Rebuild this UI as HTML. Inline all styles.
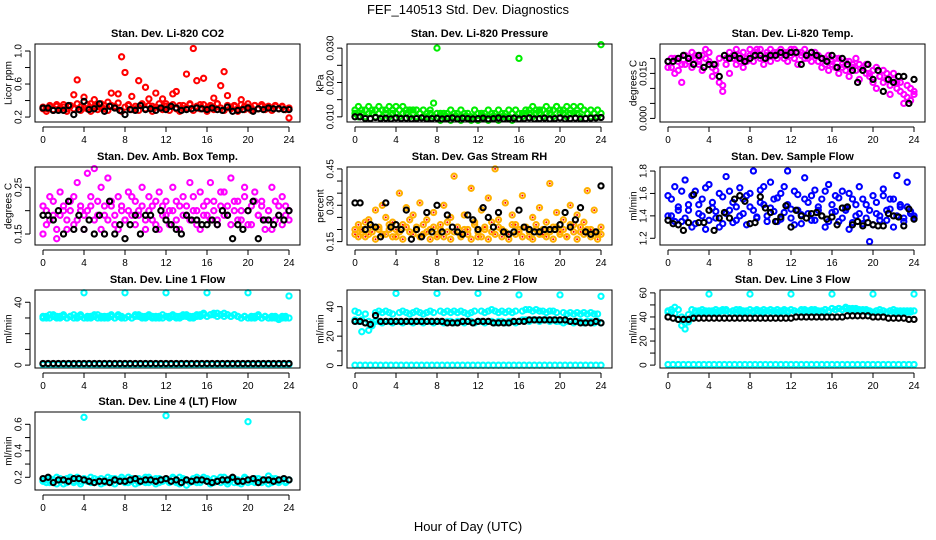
<!DOCTYPE html>
<html><head><meta charset="utf-8"><style>
html,body{margin:0;padding:0;background:#fff;}
svg{display:block;font-family:"Liberation Sans",sans-serif;}
</style></head><body>
<svg id="chart" width="936" height="540" viewBox="0 0 936 540">
<text x="468" y="14" font-size="13" text-anchor="middle">FEF_140513  Std. Dev. Diagnostics</text>
<text x="468" y="531" font-size="13" text-anchor="middle">Hour of Day (UTC)</text>
<g id="plots"></g>
</svg>
<script>
const hourTicks = [0,4,8,12,16,20,24];
// CO2
const co2A = [0.32,0.30,0.34,0.29,0.33,0.31,0.35,0.30,0.33,0.47,0.65,0.32,0.44,0.30,0.36,0.41,0.33,0.31,0.34,0.38,0.49,0.33,0.48,0.93,0.74,0.34,0.45,0.30,0.64,0.35,0.56,0.42,0.33,0.49,0.31,0.42,0.36,0.33,0.48,0.51,0.34,0.30,0.72,0.35,1.03,0.64,0.35,0.67,0.31,0.34,0.43,0.36,0.58,0.75,0.46,0.32,0.34,0.30,0.41,0.33,0.36,0.31,0.34,0.30,0.35,0.32,0.33,0.31,0.34,0.30,0.33,0.29,0.19];
const co2B = [0.30,0.27,0.33,0.28,0.35,0.29,0.32,0.27,0.34,0.30,0.36,0.28,0.31,0.35,0.27,0.33,0.29,0.36,0.30,0.28,0.34,0.31,0.37,0.27,0.32,0.35,0.29,0.33,0.28,0.36,0.30,0.34,0.27,0.32,0.36,0.29,0.33,0.28,0.35,0.30,0.27,0.34,0.31,0.36,0.28,0.33,0.30,0.35,0.27,0.32,0.29,0.36,0.31,0.28,0.34,0.30,0.33,0.27,0.35,0.29,0.32,0.28,0.34,0.30,0.33,0.29,0.31,0.28,0.33,0.30,0.32,0.29,0.31];
const co2K = [0.31,0.31,0.28,0.28,0.28,0.34,0.23,0.29,0.39,0.29,0.30,0.36,0.27,0.33,0.31,0.28,0.23,0.29,0.28,0.34,0.29,0.30,0.28,0.31,0.29,0.33,0.31,0.28,0.29,0.30,0.31,0.30,0.29,0.31,0.29,0.28,0.32,0.27,0.28,0.29,0.31,0.27,0.30,0.29,0.31,0.30,0.30,0.29,0.29];
// Pressure
const presA = [0.012,0.013,0.011,0.012,0.013,0.011,0.012,0.013,0.012,0.011,0.013,0.012,0.011,0.012,0.013,0.011,0.012,0.011,0.012,0.011,0.010,0.011,0.012,0.014,0.030,0.011,0.010,0.011,0.012,0.010,0.011,0.012,0.010,0.011,0.010,0.012,0.011,0.010,0.011,0.012,0.010,0.011,0.012,0.011,0.010,0.012,0.011,0.012,0.027,0.011,0.012,0.011,0.013,0.012,0.011,0.012,0.013,0.011,0.012,0.013,0.012,0.011,0.013,0.012,0.011,0.012,0.013,0.012,0.011,0.012,0.011,0.012,0.031];
const presB = [0.011,0.010,0.012,0.010,0.011,0.012,0.010,0.011,0.010,0.012,0.010,0.011,0.013,0.010,0.011,0.012,0.010,0.012,0.010,0.011,0.012,0.010,0.011,0.010,0.011,0.009,0.011,0.010,0.009,0.011,0.010,0.009,0.011,0.010,0.009,0.010,0.009,0.011,0.010,0.009,0.011,0.010,0.009,0.010,0.011,0.010,0.009,0.010,0.011,0.010,0.011,0.012,0.010,0.011,0.012,0.010,0.011,0.012,0.010,0.013,0.011,0.012,0.010,0.011,0.013,0.011,0.010,0.012,0.011,0.010,0.011,0.010,0.011];
const presK = [0.010,0.010,0.0095,0.0095,0.0098,0.0095,0.0096,0.0094,0.0097,0.0095,0.0096,0.0094,0.0095,0.0097,0.0094,0.0095,0.0096,0.0094,0.0095,0.0097,0.0094,0.0096,0.0095,0.0094,0.0095,0.0096,0.0094,0.0095,0.0097,0.0094,0.0095,0.0096,0.0094,0.0095,0.0097,0.0094,0.0095,0.0096,0.0094,0.0095,0.0097,0.0094,0.0095,0.0096,0.0094,0.0095,0.0096,0.0097,0.0098];
// Li-820 temp
const tempA = [0.019,0.017,0.020,0.016,0.018,0.021,0.019,0.022,0.020,0.018,0.021,0.023,0.019,0.014,0.016,0.012,0.009,0.020,0.022,0.021,0.023,0.019,0.022,0.020,0.023,0.021,0.022,0.023,0.020,0.022,0.023,0.021,0.022,0.023,0.020,0.022,0.021,0.023,0.022,0.021,0.023,0.020,0.022,0.021,0.019,0.020,0.018,0.021,0.019,0.017,0.020,0.018,0.016,0.019,0.017,0.020,0.018,0.016,0.018,0.015,0.012,0.017,0.014,0.016,0.013,0.011,0.015,0.012,0.009,0.008,0.011,0.006,0.009];
const tempB = [0.017,0.020,0.015,0.019,0.012,0.018,0.020,0.017,0.021,0.019,0.016,0.020,0.022,0.017,0.018,0.020,0.011,0.018,0.015,0.020,0.018,0.021,0.017,0.019,0.021,0.019,0.023,0.020,0.018,0.021,0.019,0.022,0.020,0.021,0.022,0.019,0.023,0.020,0.018,0.022,0.020,0.021,0.019,0.022,0.021,0.017,0.020,0.016,0.018,0.020,0.015,0.017,0.019,0.014,0.018,0.016,0.013,0.017,0.015,0.014,0.016,0.010,0.014,0.012,0.015,0.008,0.013,0.010,0.012,0.005,0.007,0.010,0.008];
const tempK = [0.019,0.019,0.020,0.021,0.020,0.018,0.021,0.017,0.018,0.018,0.014,0.021,0.020,0.021,0.020,0.019,0.020,0.021,0.021,0.020,0.021,0.021,0.022,0.021,0.022,0.022,0.018,0.021,0.022,0.021,0.020,0.019,0.021,0.017,0.020,0.018,0.016,0.012,0.016,0.018,0.013,0.016,0.009,0.013,0.012,0.014,0.014,0.005,0.013];
// Amb box temp
const ambA = [0.21,0.17,0.23,0.19,0.16,0.24,0.20,0.18,0.22,0.17,0.26,0.20,0.19,0.28,0.21,0.18,0.22,0.25,0.19,0.27,0.21,0.17,0.23,0.20,0.18,0.24,0.19,0.22,0.20,0.25,0.18,0.23,0.21,0.17,0.24,0.19,0.22,0.20,0.25,0.18,0.21,0.23,0.19,0.26,0.20,0.17,0.24,0.21,0.19,0.26,0.22,0.18,0.21,0.24,0.19,0.27,0.22,0.18,0.20,0.23,0.17,0.21,0.24,0.19,0.22,0.16,0.20,0.25,0.18,0.21,0.23,0.19,0.20];
const ambB = [0.15,0.20,0.18,0.22,0.14,0.19,0.21,0.16,0.20,0.23,0.18,0.21,0.16,0.20,0.23,0.29,0.19,0.16,0.21,0.18,0.22,0.19,0.16,0.21,0.18,0.20,0.23,0.17,0.19,0.21,0.16,0.20,0.18,0.22,0.16,0.21,0.19,0.17,0.20,0.22,0.16,0.19,0.21,0.18,0.23,0.20,0.16,0.19,0.22,0.18,0.20,0.17,0.24,0.19,0.21,0.17,0.20,0.22,0.18,0.25,0.20,0.17,0.22,0.19,0.21,0.18,0.20,0.16,0.22,0.19,0.17,0.21,0.18];
const ambK = [0.19,0.19,0.18,0.20,0.15,0.22,0.16,0.19,0.16,0.18,0.15,0.19,0.15,0.22,0.15,0.17,0.14,0.17,0.19,0.15,0.19,0.19,0.16,0.20,0.18,0.17,0.16,0.15,0.19,0.18,0.18,0.17,0.17,0.18,0.17,0.20,0.19,0.14,0.17,0.16,0.20,0.22,0.14,0.18,0.18,0.17,0.19,0.18,0.20];
// Gas stream RH
const rhA = [0.18,0.22,0.20,0.17,0.24,0.19,0.28,0.21,0.18,0.25,0.20,0.23,0.17,0.35,0.22,0.29,0.19,0.26,0.21,0.31,0.18,0.24,0.20,0.27,0.17,0.22,0.30,0.19,0.25,0.42,0.21,0.18,0.26,0.20,0.37,0.23,0.17,0.28,0.21,0.33,0.19,0.45,0.24,0.20,0.31,0.18,0.26,0.22,0.19,0.34,0.21,0.17,0.25,0.20,0.29,0.18,0.23,0.39,0.21,0.27,0.19,0.24,0.17,0.30,0.22,0.26,0.19,0.23,0.36,0.20,0.28,0.18,0.21];
const rhB = [0.20,0.17,0.19,0.23,0.18,0.21,0.16,0.20,0.30,0.18,0.22,0.17,0.20,0.19,0.16,0.21,0.24,0.18,0.20,0.17,0.22,0.19,0.16,0.21,0.18,0.20,0.17,0.23,0.16,0.19,0.21,0.17,0.20,0.18,0.16,0.22,0.19,0.17,0.20,0.16,0.23,0.18,0.21,0.17,0.19,0.16,0.22,0.18,0.20,0.17,0.21,0.19,0.16,0.22,0.18,0.20,0.17,0.19,0.16,0.21,0.18,0.20,0.17,0.22,0.19,0.16,0.21,0.18,0.20,0.17,0.19,0.16,0.18];
const rhK = [0.31,0.31,0.20,0.22,0.21,0.17,0.31,0.21,0.22,0.20,0.28,0.16,0.20,0.17,0.27,0.19,0.30,0.19,0.26,0.21,0.19,0.18,0.26,0.24,0.20,0.29,0.25,0.21,0.27,0.19,0.18,0.19,0.28,0.21,0.20,0.19,0.19,0.20,0.20,0.20,0.22,0.27,0.21,0.24,0.29,0.19,0.18,0.19,0.38];
// Sample flow
const flowA = [1.58,1.40,1.66,1.45,1.35,1.72,1.50,1.30,1.62,1.42,1.55,1.28,1.68,1.47,1.38,1.60,1.33,1.75,1.45,1.52,1.36,1.65,1.42,1.58,1.48,1.80,1.39,1.63,1.50,1.35,1.70,1.44,1.56,1.37,1.66,1.80,1.46,1.32,1.59,1.41,1.74,1.52,1.36,1.63,1.45,1.55,1.30,1.68,1.43,1.58,1.35,1.62,1.47,1.28,1.55,1.40,1.66,1.33,1.50,1.17,1.58,1.42,1.36,1.64,1.45,1.55,1.30,1.76,1.48,1.38,1.70,1.44,1.40];
const flowB = [1.40,1.55,1.35,1.48,1.62,1.38,1.45,1.58,1.33,1.50,1.40,1.65,1.36,1.52,1.44,1.30,1.57,1.42,1.62,1.34,1.48,1.40,1.55,1.32,1.60,1.45,1.38,1.52,1.66,1.40,1.47,1.55,1.35,1.60,1.43,1.50,1.38,1.62,1.45,1.33,1.55,1.42,1.58,1.36,1.48,1.40,1.62,1.35,1.50,1.44,1.56,1.38,1.45,1.60,1.34,1.50,1.42,1.55,1.38,1.45,1.32,1.52,1.40,1.58,1.36,1.46,1.55,1.40,1.50,1.35,1.48,1.42,1.38];
const flowK = [1.36,1.33,1.32,1.27,1.34,1.59,1.34,1.34,1.45,1.27,1.38,1.43,1.38,1.55,1.58,1.53,1.33,1.34,1.57,1.47,1.43,1.35,1.39,1.49,1.30,1.45,1.40,1.38,1.42,1.43,1.40,1.37,1.39,1.32,1.47,1.48,1.32,1.35,1.31,1.34,1.32,1.31,1.31,1.42,1.40,1.39,1.31,1.46,1.37];
// Line 1
const l1A = [31,30,32,31,30,31,32,30,31,30,31,32,46,30,31,32,30,31,30,31,32,30,31,30,46,31,30,32,31,30,31,32,31,30,31,30,46,31,32,31,30,31,32,31,30,31,32,33,46,32,33,31,32,33,32,31,32,31,30,31,46,30,31,32,30,31,30,31,30,29,31,30,44];
const l1B = [30,31,30,32,31,30,31,30,31,32,30,31,30,31,30,31,32,30,31,30,31,30,32,31,30,31,30,31,32,31,30,31,30,31,30,32,31,30,31,30,31,32,31,30,31,32,31,32,31,32,32,33,32,31,32,31,32,31,30,31,30,31,30,31,30,31,30,30,31,30,30,31,30];
const l1Z = [0.3,0.3,0.3,0.3,0.3,0.3,0.3,0.3,0.3,0.3,0.3,0.3,0.3,0.3,0.3,0.3,0.3,0.3,0.3,0.3,0.3,0.3,0.3,0.3,0.3,0.3,0.3,0.3,0.3,0.3,0.3,0.3,0.3,0.3,0.3,0.3,0.3,0.3,0.3,0.3,0.3,0.3,0.3,0.3,0.3,0.3,0.3,0.3,0.3];
const l1K = [1,1,1,1,1,1,1,1,1,1,1,1,1,1,1,1,1,1,1,1,1,1,1,1,1,1,1,1,1,1,1,1,1,1,1,1,1,1,1,1,1,1,1,1,1,1,1,1,1];
// Line 2
const l2A = [37,36,23,35,24,27,36,37,36,37,36,35,49,36,37,36,35,36,37,36,35,36,37,36,49,37,36,37,36,37,36,37,36,35,36,37,49,37,36,37,38,37,36,37,36,37,36,37,48,37,38,38,37,38,37,37,36,37,37,36,48,36,35,36,35,36,35,36,35,36,35,35,47];
const l2B = [31,30,31,29,30,29,30,30,29,30,30,29,30,30,29,30,30,29,30,30,29,30,30,29,30,30,29,30,30,29,30,30,29,30,30,29,30,30,29,30,30,29,30,30,29,30,30,29,30,31,31,30,31,31,30,31,31,30,31,30,30,29,30,30,29,30,30,29,30,30,29,30,29];
const l2Z = [0.3,0.3,0.3,0.3,0.3,0.3,0.3,0.3,0.3,0.3,0.3,0.3,0.3,0.3,0.3,0.3,0.3,0.3,0.3,0.3,0.3,0.3,0.3,0.3,0.3,0.3,0.3,0.3,0.3,0.3,0.3,0.3,0.3,0.3,0.3,0.3,0.3,0.3,0.3,0.3,0.3,0.3,0.3,0.3,0.3,0.3,0.3,0.3,0.3];
const l2K = [30,30,29,28,34,30,30,30,30,30,30,30,30,30,30,30,30,30,29,29,29,30,30,29,30,30,30,29,29,29,29,30,30,30,31,31,31,31,31,31,31,31,30,30,29,29,29,30,29];
// Line 3
const l3A = [45,44,43,38,33,30,36,40,44,45,44,45,59,45,44,45,46,45,44,45,46,45,44,45,59,45,46,45,44,45,46,45,44,45,46,45,59,45,44,45,46,45,46,45,44,45,46,45,59,46,47,46,47,46,47,46,45,46,45,44,59,45,44,45,44,45,44,45,44,45,44,45,59];
const l3B = [44,46,48,46,40,35,42,46,45,44,46,44,45,44,46,44,45,46,44,45,44,46,45,44,46,44,45,44,46,45,44,45,46,44,45,44,46,45,44,46,45,44,45,46,45,44,46,45,47,46,47,46,48,47,46,47,46,45,46,45,44,45,46,45,44,45,46,44,45,44,45,44,45];
const l3Z = [0.5,0.5,0.5,0.5,0.5,0.5,0.5,0.5,0.5,0.5,0.5,0.5,0.5,0.5,0.5,0.5,0.5,0.5,0.5,0.5,0.5,0.5,0.5,0.5,0.5,0.5,0.5,0.5,0.5,0.5,0.5,0.5,0.5,0.5,0.5,0.5,0.5,0.5,0.5,0.5,0.5,0.5,0.5,0.5,0.5,0.5,0.5,0.5,0.5];
const l3K = [40,39,38,38,38,39,39,39,39,39,39,39,39,39,39,39,39,39,39,39,39,39,39,39,39,40,40,40,40,40,40,40,40,40,40,41,41,41,41,41,40,40,40,39,39,39,39,38,38];
// Line 4
const l4A = [0.17,0.19,0.16,0.18,0.20,0.17,0.15,0.19,0.18,0.16,0.20,0.17,0.653,0.18,0.16,0.19,0.17,0.15,0.18,0.20,0.16,0.19,0.17,0.18,0.16,0.20,0.17,0.15,0.19,0.18,0.16,0.20,0.17,0.19,0.16,0.18,0.665,0.17,0.19,0.16,0.20,0.18,0.14,0.17,0.19,0.16,0.18,0.20,0.17,0.15,0.19,0.18,0.16,0.20,0.17,0.19,0.16,0.18,0.15,0.19,0.62,0.17,0.16,0.19,0.18,0.17,0.21,0.16,0.19,0.17,0.18,0.16,0.18];
const l4B = [0.18,0.16,0.19,0.17,0.15,0.19,0.18,0.16,0.20,0.17,0.18,0.15,0.19,0.17,0.20,0.16,0.18,0.19,0.16,0.17,0.19,0.15,0.18,0.20,0.17,0.16,0.19,0.18,0.16,0.17,0.20,0.16,0.18,0.15,0.19,0.17,0.18,0.16,0.20,0.17,0.15,0.19,0.18,0.16,0.17,0.20,0.16,0.18,0.19,0.17,0.16,0.18,0.20,0.17,0.15,0.18,0.19,0.16,0.17,0.20,0.16,0.18,0.19,0.17,0.16,0.18,0.15,0.19,0.17,0.16,0.18,0.17,0.18];
const l4K = [0.19,0.20,0.16,0.18,0.18,0.17,0.19,0.19,0.18,0.17,0.16,0.17,0.17,0.16,0.18,0.17,0.17,0.18,0.19,0.17,0.18,0.18,0.17,0.18,0.19,0.17,0.18,0.16,0.18,0.17,0.18,0.18,0.17,0.16,0.17,0.18,0.18,0.20,0.17,0.17,0.18,0.19,0.16,0.18,0.18,0.17,0.18,0.19,0.18];

const colX0 = [43,355,668];
const rowTop = [44,167,290,412];
const panels = [
 {name:'co2',title:'Stan. Dev. Li-820 CO2',ylab:'Licor ppm',col:0,row:0,ylim:[0.14,1.085],ticks:[0.2,0.4,0.6,0.8,1.0],labels:['0.2','','0.6','','1.0'],series:[[co2B,'#ff0000'],[co2A,'#ff0000'],[co2K,'#000000']]},
 {name:'pressure',title:'Stan. Dev. Li-820 Pressure',ylab:'kPa',col:1,row:0,ylim:[0.0085,0.0312],ticks:[0.010,0.015,0.020,0.025,0.030],labels:['0.010','','0.020','','0.030'],series:[[presB,'#00ee00'],[presA,'#00ee00'],[presK,'#000000']]},
 {name:'li820-temp',title:'Stan. Dev. Li-820 Temp.',ylab:'degrees C',col:2,row:0,ylim:[-0.0012,0.0248],ticks:[0,0.005,0.010,0.015,0.020],labels:['0.000','','','0.015',''],series:[[tempB,'#ff00ff'],[tempA,'#ff00ff'],[tempK,'#000000']]},
 {name:'amb-box-temp',title:'Stan. Dev. Amb. Box Temp.',ylab:'degrees C',col:0,row:1,ylim:[0.1265,0.2935],ticks:[0.15,0.20,0.25],labels:['0.15','','0.25'],series:[[ambB,'#ff00ff'],[ambA,'#ff00ff'],[ambK,'#000000']]},
 {name:'gas-rh',title:'Stan. Dev. Gas Stream RH',ylab:'percent',col:1,row:1,ylim:[0.136,0.458],ticks:[0.15,0.20,0.25,0.30,0.35,0.40,0.45],labels:['0.15','','','0.30','','','0.45'],series:[[rhB,'#ffb000'],[rhA,'#ffb000'],[rhK,'#000000']],dot:'#ff0000'},
 {name:'sample-flow',title:'Stan. Dev. Sample Flow',ylab:'ml/min',col:2,row:1,ylim:[1.14,1.836],ticks:[1.2,1.4,1.6,1.8],labels:['1.2','1.4','1.6','1.8'],series:[[flowB,'#0000ff'],[flowA,'#0000ff'],[flowK,'#000000']]},
 {name:'line1-flow',title:'Stan. Dev. Line 1 Flow',ylab:'ml/min',col:0,row:2,ylim:[-1.84,47.8],ticks:[0,10,20,30,40],labels:['0','','','','40'],series:[[l1Z,'#00ffff'],[l1B,'#00ffff'],[l1A,'#00ffff'],[l1K,'#000000']]},
 {name:'line2-flow',title:'Stan. Dev. Line 2 Flow',ylab:'ml/min',col:1,row:2,ylim:[-1.6,51.3],ticks:[0,10,20,30,40],labels:['0','','20','','40'],series:[[l2Z,'#00ffff'],[l2B,'#00ffff'],[l2A,'#00ffff'],[l2K,'#000000']]},
 {name:'line3-flow',title:'Stan. Dev. Line 3 Flow',ylab:'ml/min',col:2,row:2,ylim:[-2.4,62.4],ticks:[0,10,20,30,40,50,60],labels:['0','','20','','40','','60'],series:[[l3Z,'#00ffff'],[l3B,'#00ffff'],[l3A,'#00ffff'],[l3K,'#000000']]},
 {name:'line4-flow',title:'Stan. Dev. Line 4 (LT) Flow',ylab:'ml/min',col:0,row:3,ylim:[0.104,0.693],ticks:[0.2,0.3,0.4,0.5,0.6],labels:['0.2','','0.4','','0.6'],series:[[l4B,'#00ffff'],[l4A,'#00ffff'],[l4K,'#000000']]}
];

const NS='http://www.w3.org/2000/svg';
function mk(tag, attrs, parent){const e=document.createElementNS(NS,tag);for(const k in attrs)e.setAttribute(k,attrs[k]);parent.appendChild(e);return e;}
const root=document.getElementById('plots');
panels.forEach(p=>{
  const x0=colX0[p.col], top=rowTop[p.row], h=78, bottom=top+h;
  const left=x0-8, right=x0+257;
  const xs=v=>x0+v*246/24;
  const ys=v=>bottom-(v-p.ylim[0])/(p.ylim[1]-p.ylim[0])*h;
  const g=mk('g',{},root);
  
  
  const t=mk('text',{x:(left+right)/2,y:top-7,'font-size':'11','font-weight':'bold','text-anchor':'middle'},g);
  t.textContent=p.title;
  
  
  const pts=mk('g',{fill:'none','stroke-width':'2.1'},g);
  
  
  p.series.forEach(([arr,color])=>{
    arr.forEach((v,i)=>{
      const cx=xs(i*24/(arr.length-1)).toFixed(1), cy=ys(v).toFixed(1);
      const c=mk('circle',{cx:cx,cy:cy,r:'2.6',stroke:color},pts);
      
      
      if(p.dot && color!=='#000000'){mk('circle',{cx:cx,cy:cy,r:'1',fill:p.dot,stroke:'none'},pts);}
    });
  });
  const box=mk('rect',{x:left,y:top,width:right-left,height:h,fill:'none',stroke:'#000','stroke-width':'1'},g);
  
  
  const xa=mk('g',{stroke:'#000','stroke-width':'1'},g);
  
  
  mk('line',{x1:xs(0),x2:xs(24),y1:bottom+5,y2:bottom+5},xa);
  hourTicks.forEach(v=>{
    mk('line',{x1:xs(v),x2:xs(v),y1:bottom+5,y2:bottom+10},xa);
    const tl=mk('text',{x:xs(v),y:bottom+21,'font-size':'10','text-anchor':'middle',stroke:'none'},xa);
    tl.textContent=v;
  });
  const ya=mk('g',{stroke:'#000','stroke-width':'1'},g);
  
  
  mk('line',{x1:left-5,x2:left-5,y1:ys(p.ticks[0]),y2:ys(p.ticks[p.ticks.length-1])},ya);
  p.ticks.forEach((v,i)=>{
    const y=ys(v);
    mk('line',{x1:left-10,x2:left-5,y1:y,y2:y},ya);
    if(p.labels[i]){
      const tl=mk('text',{x:left-16,y:y,'font-size':'10','text-anchor':'middle','dominant-baseline':'central',stroke:'none',transform:`rotate(-90 ${left-16} ${y})`},ya);
      tl.textContent=p.labels[i];
    }
  });
  const yt=mk('text',{x:left-26,y:(top+bottom)/2,'font-size':'10','text-anchor':'middle','dominant-baseline':'central',transform:`rotate(-90 ${left-26} ${(top+bottom)/2})`},g);
  yt.textContent=p.ylab;
  
  
});
</script>
</body></html>
